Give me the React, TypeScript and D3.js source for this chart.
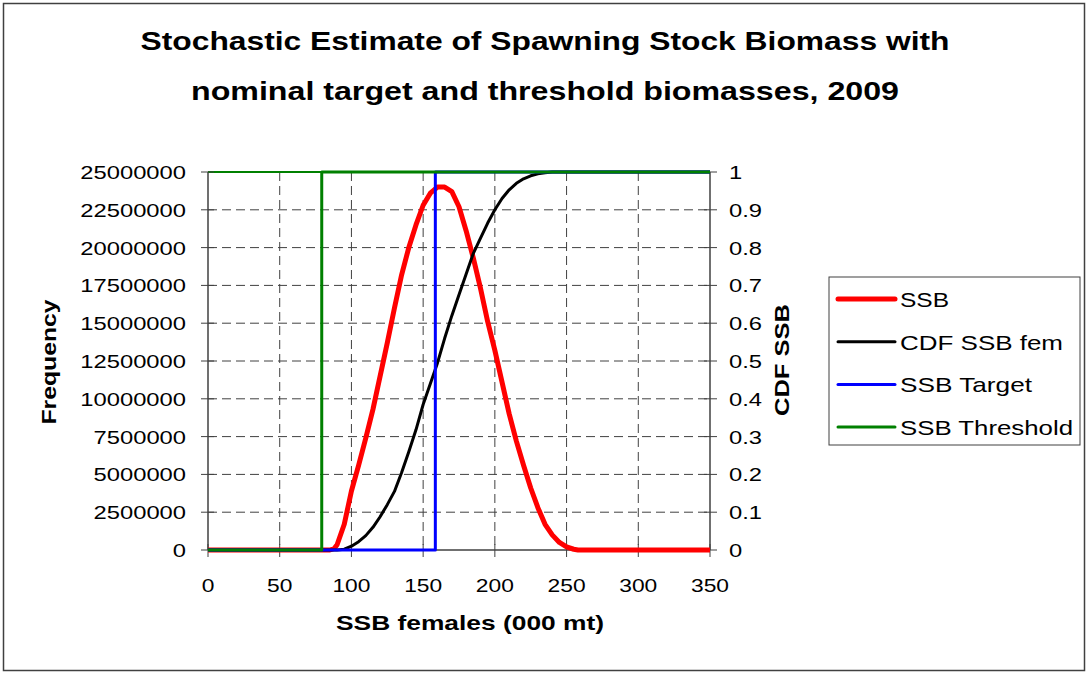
import * as d3 from "d3";

// SSB frequency distribution (x in 000 mt, y = frequency)
const ssbX = [0, 85, 88, 90, 95, 100, 105, 110, 115, 120, 125, 130, 135, 140, 145, 150, 155, 160, 165, 170, 175, 180, 185, 190, 195, 200, 205, 210, 215, 220, 225, 230, 235, 240, 245, 250, 255, 258, 350];
const ssbY = [0, 0, 100000, 350000, 1700000, 3900000, 5600000, 7400000, 9300000, 11500000, 13700000, 16000000, 18200000, 20000000, 21500000, 22800000, 23600000, 24000000, 24000000, 23700000, 22700000, 21100000, 19300000, 17300000, 15100000, 13200000, 11100000, 9000000, 7200000, 5600000, 4100000, 2800000, 1700000, 1000000, 500000, 200000, 50000, 0, 0];

// cumulative distribution (secondary axis)
const cdfX = [0, 90, 95, 100, 105, 110, 115, 120, 125, 130, 135, 140, 145, 150, 155, 160, 165, 170, 175, 180, 185, 190, 195, 200, 205, 210, 215, 220, 225, 230, 235, 240, 350];
const cdfY = [0, 0, 0.002, 0.01, 0.022, 0.038, 0.06, 0.088, 0.12, 0.155, 0.205, 0.26, 0.318, 0.385, 0.44, 0.495, 0.56, 0.62, 0.675, 0.73, 0.785, 0.825, 0.865, 0.9, 0.93, 0.953, 0.97, 0.982, 0.99, 0.995, 0.998, 1, 1];

// nominal reference points (step series on secondary axis)
const targetX = [0, 158.5, 158.5, 350];
const targetY = [0, 0, 1, 1];
const thresholdX = [0, 79.3, 79.3, 350];
const thresholdY = [0, 0, 1, 1];

const xTicks = [0, 50, 100, 150, 200, 250, 300, 350];
const yTicks = [0, 2500000, 5000000, 7500000, 10000000, 12500000, 15000000, 17500000, 20000000, 22500000, 25000000];
const y2Ticks = [0, 0.1, 0.2, 0.3, 0.4, 0.5, 0.6, 0.7, 0.8, 0.9, 1];

const titleLines = ["Stochastic Estimate of Spawning Stock Biomass with", "nominal target and threshold  biomasses, 2009"];
const legendItems = [
  { label: "SSB", color: "#ff0000", width: 5, len: 49 },
  { label: "CDF SSB fem", color: "#000000", width: 3, len: 163 },
  { label: "SSB Target", color: "#0000ff", width: 3, len: 132 },
  { label: "SSB Threshold", color: "#008000", width: 3, len: 173 },
];

const W = 1089;
const H = 673;
const plot = { left: 208, right: 710, top: 172, bottom: 550 };
const font = "'Liberation Sans', Arial, sans-serif";
const axisColor = "#404040";

const zip = (xs: number[], ys: number[]) => xs.map((x, i) => [x, ys[i]] as [number, number]);

export default function App() {
  const x = d3.scaleLinear().domain([0, 350]).range([plot.left, plot.right]);
  const y = d3.scaleLinear().domain([0, 25000000]).range([plot.bottom, plot.top]);
  const y2 = d3.scaleLinear().domain([0, 1]).range([plot.bottom, plot.top]);

  const lineL = d3.line<[number, number]>().x((d) => x(d[0])).y((d) => y(d[1]));
  const lineR = d3.line<[number, number]>().x((d) => x(d[0])).y((d) => y2(d[1]));

  const series = [
    { d: lineL(zip(ssbX, ssbY)), color: "#ff0000", width: 5 },
    { d: lineR(zip(cdfX, cdfY)), color: "#000000", width: 3 },
    { d: lineR(zip(targetX, targetY)), color: "#0000ff", width: 3 },
    { d: lineR(zip(thresholdX, thresholdY)), color: "#008000", width: 3 },
  ];

  const legX = 829;
  const legY = 277;
  const rowStep = 42.7;

  return (
    <svg
      width={W}
      height={H}
      style={{ position: "absolute", left: 0, top: 0, background: "#fff", fontFamily: font }}
    >
      <rect x={3.5} y={3.5} width={1081} height={667} fill="#fff" stroke={axisColor} strokeWidth={1.5} />

      {titleLines.map((t, i) => (
        <text
          key={t}
          x={545}
          y={50 + i * 50}
          textAnchor="middle"
          fontSize={25}
          fontWeight="bold"
          textLength={i === 0 ? 809 : 708}
          lengthAdjust="spacingAndGlyphs"
        >
          {t}
        </text>
      ))}

      {/* grid */}
      {xTicks.slice(1, -1).map((t) => (
        <line key={"gx" + t} x1={x(t)} x2={x(t)} y1={plot.top} y2={plot.bottom} stroke={axisColor} strokeWidth={1} strokeDasharray="9,5" />
      ))}
      {yTicks.slice(1, -1).map((t) => (
        <line key={"gy" + t} x1={plot.left} x2={plot.right} y1={y(t)} y2={y(t)} stroke={axisColor} strokeWidth={1} strokeDasharray="9,5" />
      ))}

      {/* axes */}
      <line x1={plot.left} x2={plot.left} y1={plot.top} y2={plot.bottom} stroke={axisColor} strokeWidth={1.5} />
      <line x1={plot.right} x2={plot.right} y1={plot.top} y2={plot.bottom} stroke={axisColor} strokeWidth={1.5} />
      <line x1={plot.left} x2={plot.right} y1={plot.bottom} y2={plot.bottom} stroke={axisColor} strokeWidth={1.5} />
      <line x1={x(0)} x2={x(350)} y1={y2(1)} y2={y2(1)} stroke="#008000" strokeWidth={2} />

      {yTicks.map((t) => (
        <g key={"yt" + t}>
          <line x1={plot.left - 7} x2={plot.left + 6} y1={y(t)} y2={y(t)} stroke={axisColor} strokeWidth={1} />
          <text transform={`translate(186,${y(t) + 7}) scale(1.25,1)`} textAnchor="end" fontSize={19}>
            {t}
          </text>
        </g>
      ))}
      {y2Ticks.map((t) => (
        <g key={"y2t" + t}>
          <line x1={plot.right - 6} x2={plot.right + 7} y1={y2(t)} y2={y2(t)} stroke={axisColor} strokeWidth={1} />
          <text transform={`translate(729,${y2(t) + 7}) scale(1.25,1)`} textAnchor="start" fontSize={19}>
            {t}
          </text>
        </g>
      ))}
      {xTicks.map((t) => (
        <g key={"xt" + t}>
          <line x1={x(t)} x2={x(t)} y1={plot.bottom - 6} y2={plot.bottom + 7} stroke={axisColor} strokeWidth={1} />
          <text transform={`translate(${x(t)},592) scale(1.2,1)`} textAnchor="middle" fontSize={19}>
            {t}
          </text>
        </g>
      ))}

      {/* series */}
      {series.map((s, i) => (
        <path key={i} d={s.d ?? ""} fill="none" stroke={s.color} strokeWidth={s.width} strokeLinejoin="round" />
      ))}

      {/* axis titles */}
      <text x={470} y={630} textAnchor="middle" fontSize={21} fontWeight="bold" textLength={268} lengthAdjust="spacingAndGlyphs">
        SSB females (000 mt)
      </text>
      <text transform={`translate(56,362) rotate(-90)`} textAnchor="middle" fontSize={20} fontWeight="bold" textLength={125} lengthAdjust="spacingAndGlyphs">
        Frequency
      </text>
      <text transform={`translate(789,360) rotate(-90)`} textAnchor="middle" fontSize={20} fontWeight="bold" textLength={112} lengthAdjust="spacingAndGlyphs">
        CDF SSB
      </text>

      {/* legend */}
      <rect x={legX} y={legY} width={251} height={168} fill="#fff" stroke={axisColor} strokeWidth={1} />
      {legendItems.map((it, i) => {
        const cy = 299 + i * rowStep;
        return (
          <g key={it.label}>
            <line x1={838} x2={895} y1={cy} y2={cy} stroke={it.color} strokeWidth={it.width} strokeLinecap="round" />
            <text x={900} y={cy + 8} fontSize={21} textLength={it.len} lengthAdjust="spacingAndGlyphs">
              {it.label}
            </text>
          </g>
        );
      })}
    </svg>
  );
}
